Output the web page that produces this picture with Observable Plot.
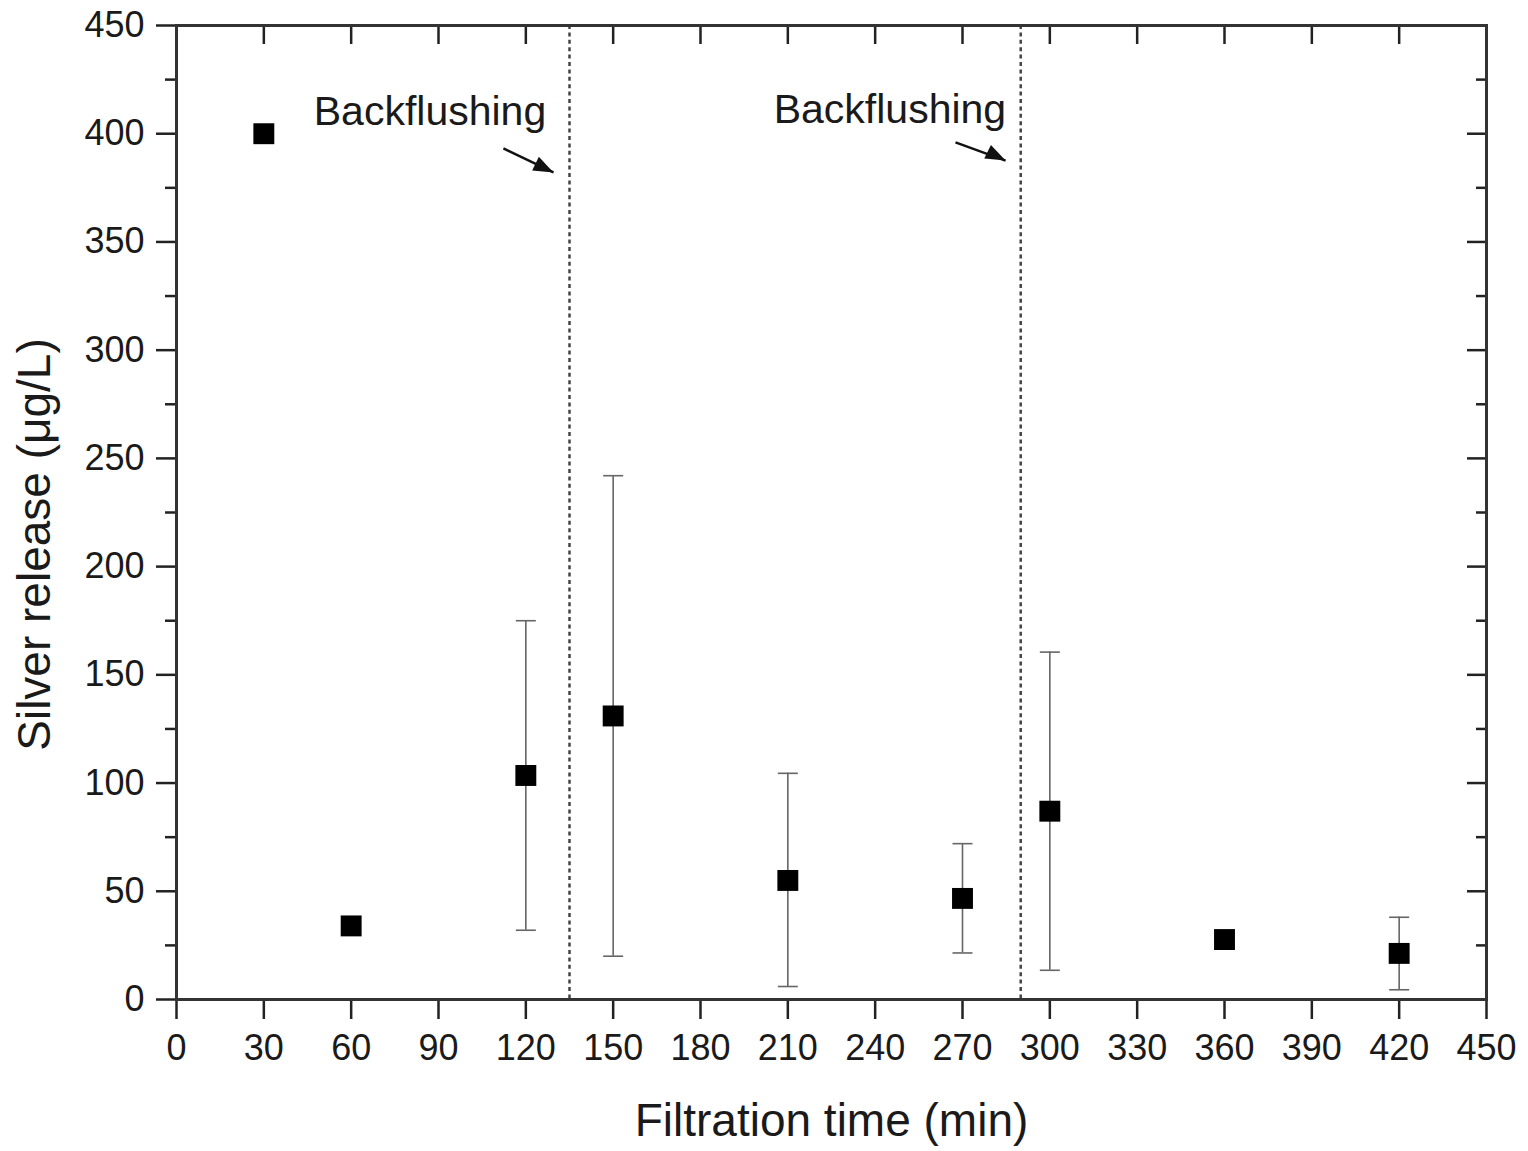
<!DOCTYPE html>
<html>
<head>
<meta charset="utf-8">
<script src="https://cdn.jsdelivr.net/npm/d3@7"></script>
<script src="https://cdn.jsdelivr.net/npm/@observablehq/plot@0.6"></script>
<style>
  body { margin: 0; background: #fff; }
  #chart svg { display: block; }
</style>
</head>
<body>
<div id="chart"></div>
<script>
// ---- Data ----
const times = [30, 60, 120, 150, 210, 270, 300, 360, 420];
const release = [400, 34, 103.5, 131, 55, 46.7, 87, 27.7, 21.3];
const errLow = [null, null, 32, 20, 6, 21.5, 13.5, null, 4.5];
const errHigh = [null, null, 175, 242, 104.5, 72, 160.5, null, 38];

// Backflushing events and annotations
const backflushTimes = [135, 290];
const annotationText = ["Backflushing", "Backflushing"];
const annotationX = [127, 285];
const annotationY = [410, 411];
const arrowX1 = [112.3, 267.6];
const arrowY1 = [393.2, 396];
const arrowX2 = [129.5, 284.8];
const arrowY2 = [382.1, 387.6];

// Axes
const xTicks = d3.range(0, 451, 30);
const yTicks = d3.range(0, 451, 50);
const yMinorTicks = d3.range(25, 450, 50);
const xLabel = "Filtration time (min)";
const yLabel = "Silver release (μg/L)";

// ---- Build tables ----
const points = times.map((t, i) => ({t, v: release[i], lo: errLow[i], hi: errHigh[i]}));
const errs = points.filter(d => d.lo != null);
const caps = errs.flatMap(d => [{t: d.t, v: d.lo}, {t: d.t, v: d.hi}]);
const annotations = annotationText.map((s, i) => ({s, x: annotationX[i], y: annotationY[i]}));
const arrows = arrowX1.map((x1, i) => ({x1, y1: arrowY1[i], x2: arrowX2[i], y2: arrowY2[i]}));

const capSymbol = {
  draw(ctx, size) {
    const r = Math.sqrt(size / Math.PI);
    ctx.moveTo(-r, 0);
    ctx.lineTo(r, 0);
  }
};
const headSymbol = {
  draw(ctx, size) {
    const r = Math.sqrt(size / Math.PI);
    ctx.moveTo(0, 0);
    ctx.lineTo(-r, -r * 0.38);
    ctx.lineTo(-r, r * 0.38);
    ctx.closePath();
  }
};

const axisColor = "#222";

const chart = Plot.plot({
  width: 1528,
  height: 1151,
  marginLeft: 176,
  marginRight: 42,
  marginTop: 25,
  marginBottom: 152,
  style: {fontFamily: "'Liberation Sans', Arial, sans-serif", fontSize: "36px", color: "#1a1a1a", background: "#fff", overflow: "visible"},
  x: {domain: [0, 450]},
  y: {domain: [0, 450]},
  marks: [
    // backflushing dotted lines
    Plot.ruleX(backflushTimes, {x: d => d, stroke: "#444", strokeWidth: 2.5, strokeDasharray: "4,3.4"}),
    // bottom axis
    Plot.axisX({ticks: xTicks, tickSize: 20, tickPadding: 15, tickFormat: d => String(d), label: null, stroke: axisColor, strokeWidth: 2.5, fill: "#1a1a1a"}),
    // top ticks inward
    Plot.axisX({anchor: "top", ticks: xTicks, tickSize: -18, fill: "none", label: null, stroke: axisColor, strokeWidth: 2.5}),
    // left axis major (outward)
    Plot.axisY({ticks: yTicks, tickSize: 20, tickPadding: 12, tickFormat: d => String(d), label: null, stroke: axisColor, strokeWidth: 2.5, fill: "#1a1a1a"}),
    // left minor
    Plot.axisY({ticks: yMinorTicks, tickSize: 11, fill: "none", label: null, stroke: axisColor, strokeWidth: 2.5}),
    // right major/minor inward
    Plot.axisY({anchor: "right", ticks: yTicks, tickSize: -20, fill: "none", label: null, stroke: axisColor, strokeWidth: 2.5}),
    Plot.axisY({anchor: "right", ticks: yMinorTicks, tickSize: -11, fill: "none", label: null, stroke: axisColor, strokeWidth: 2.5}),
    Plot.frame({stroke: "#333", strokeWidth: 3}),
    // error bars
    Plot.ruleX(errs, {x: "t", y1: "lo", y2: "hi", stroke: "#666", strokeWidth: 1.6}),
    Plot.dot(caps, {x: "t", y: "v", symbol: capSymbol, r: 10, stroke: "#666", strokeWidth: 1.6, fill: "none"}),
    // data points
    Plot.dot(points, {x: "t", y: "v", symbol: "square", r: 11.8, fill: "#000", stroke: "none"}),
    // annotations
    Plot.text(annotations, {x: "x", y: "y", text: "s", textAnchor: "end", fontSize: 41, fill: "#1a1a1a"}),
    Plot.link(arrows, {x1: "x1", y1: "y1", x2: "x2", y2: "y2", stroke: "#111", strokeWidth: 2.5}),
    Plot.dot(arrows, {x: "x2", y: "y2", symbol: headSymbol, r: 20, rotate: 26, fill: "#111", stroke: "none"}),
    // axis titles
    Plot.text([xLabel], {frameAnchor: "bottom", text: d => d, textAnchor: "middle", dy: 136, fontSize: 46, fill: "#1a1a1a"}),
    Plot.text([yLabel], {frameAnchor: "left", text: d => d, textAnchor: "middle", rotate: -90, dx: -141, dy: 32, fontSize: 46, fill: "#1a1a1a"})
  ]
});
document.getElementById("chart").appendChild(chart);
</script>
</body>
</html>
